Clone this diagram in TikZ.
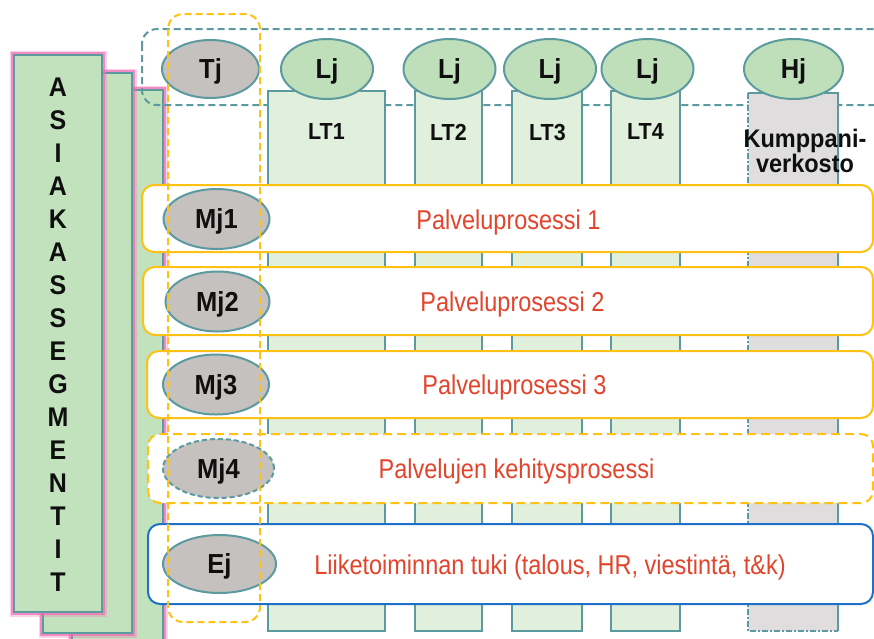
\documentclass[tikz,border=0pt]{standalone}
\usepackage{fontspec}
\setmainfont{Liberation Sans}
\usetikzlibrary{shapes.geometric}

\definecolor{tealline}{RGB}{92,154,160}
\definecolor{segfill}{RGB}{194,226,190}
\definecolor{ellgreen}{RGB}{190,223,186}
\definecolor{colfill}{RGB}{224,240,221}
\definecolor{ellgray}{RGB}{197,193,190}
\definecolor{partnerfill}{RGB}{223,221,221}
\definecolor{procyellow}{RGB}{255,193,20}
\definecolor{supportblue}{RGB}{30,112,200}
\definecolor{proctext}{RGB}{226,68,44}
\definecolor{glowpink}{RGB}{240,110,180}
\definecolor{labeltext}{RGB}{15,15,15}

\newcommand{\tallred}[1]{\scalebox{1}[1.16]{#1}}
\newcommand{\tallbold}[1]{\scalebox{1}[1.08]{#1}}

\tikzset{
  segbox/.style={fill=segfill, draw=tealline, line width=2.4pt},
  glowouter/.style={draw=glowpink, line width=9pt, opacity=0.3},
  glow/.style={draw=glowpink, line width=5.5pt, opacity=0.7},
  seglabel/.style={font=\fontsize{25}{28}\selectfont\bfseries, text=labeltext, inner sep=0pt, text depth=0pt},
  colbox/.style={fill=colfill, draw=tealline, line width=2pt},
  ellbase/.style={ellipse, draw=tealline, line width=2pt, inner sep=0pt, text=labeltext,
    font=\fontsize{25.5}{28}\selectfont\bfseries, text depth=0pt},
  unitell/.style={ellbase, fill=ellgreen, minimum width=92pt, minimum height=60pt},
  roleell/.style={ellbase, fill=ellgray},
  proc/.style={draw=procyellow, fill=white, line width=2pt, rounded corners=12pt},
  proclabel/.style={font=\fontsize{23.5}{28}\selectfont, text=proctext, inner sep=0pt, text depth=0pt},
  collabel/.style={font=\fontsize{21.5}{25}\selectfont\bfseries, text=labeltext, inner sep=0pt, text depth=0pt},
}

\begin{document}
\begin{tikzpicture}[x=1pt, y=-1pt]
\useasboundingbox (0,0) rectangle (874,638);
\clip (0,0) rectangle (874,638);

% stacked customer segment panels with a soft pink halo
\foreach \l/\t/\r/\b in {72/90/163/680, 43/73/132/633, 14/55/102/612} {
  \draw[glowouter] (\l,\t) rectangle (\r,\b);
  \draw[glow] (\l,\t) rectangle (\r,\b);
  \draw[segbox] (\l,\t) rectangle (\r,\b);
}
\foreach \ch [count=\i] in {A,S,I,A,K,A,S,S,E,G,M,E,N,T,I,T}
  \node[seglabel] (seg\i) at (58,{87.5+33*(\i-1)}) {\tallbold{\ch}};

% management band
\draw[tealline, line width=2pt, dash pattern=on 7pt off 4pt, rounded corners=15pt]
  (142,29) rectangle (900,105);

% business unit columns
\draw[colbox] (268,91) rectangle (385,631);
\draw[colbox] (415,91) rectangle (482,631);
\draw[colbox] (512,91) rectangle (582,631);
\draw[colbox] (611,91) rectangle (680,631);
\fill[partnerfill] (748,93) rectangle (838,631);
\draw[tealline, line width=2pt] (748,93) -- (838,93) -- (838,631);
\draw[tealline, line width=2pt, dash pattern=on 6pt off 2pt on 2pt off 2pt]
  (748,93) -- (748,631) -- (838,631);

\node[collabel] (lt1) at (326.5,132) {\tallbold{LT1}};
\node[collabel] (lt2) at (448.5,132) {\tallbold{LT2}};
\node[collabel] (lt3) at (547.5,132) {\tallbold{LT3}};
\node[collabel] (lt4) at (645.5,132) {\tallbold{LT4}};
\node[collabel, font=\fontsize{23.5}{25}\selectfont\bfseries, anchor=base] (partner1) at (805,147) {\tallbold{Kumppani-}};
\node[collabel, font=\fontsize{23.5}{25}\selectfont\bfseries, anchor=base] (partner2) at (805,172) {\tallbold{verkosto}};

% unit leaders
\node[roleell, minimum width=97pt, minimum height=58pt] (tj) at (210.5,69) {\tallbold{Tj}};
\node[unitell] (lj1) at (327,69) {\tallbold{Lj}};
\node[unitell] (lj2) at (449.5,69) {\tallbold{Lj}};
\node[unitell] (lj3) at (550,69) {\tallbold{Lj}};
\node[unitell] (lj4) at (647.5,69) {\tallbold{Lj}};
\node[unitell, minimum width=99pt] (hj) at (793.5,69) {\tallbold{Hj}};

% process rows
\draw[proc] (142,185) rectangle (873,252);
\draw[proc] (143,267) rectangle (873,335);
\draw[proc] (147,351) rectangle (873,418);
\draw[proc, dash pattern=on 9pt off 5pt] (148,434) rectangle (873,503);
\draw[proc, draw=supportblue] (148,524) rectangle (873,604);

\node[proclabel] (p1) at (508.5,220) {\tallred{Palveluprosessi 1}};
\node[proclabel] (p2) at (512.5,302) {\tallred{Palveluprosessi 2}};
\node[proclabel] (p3) at (514.5,385) {\tallred{Palveluprosessi 3}};
\node[proclabel] (p4) at (516.5,469) {\tallred{Palvelujen kehitysprosessi}};
\node[proclabel] (p5) at (550,565) {\tallred{Liiketoiminnan tuki (talous, HR, viestintä, t\&k)}};

\node[roleell, minimum width=106pt, minimum height=60pt] (mj1) at (216.5,219) {\tallbold{Mj1}};
\node[roleell, minimum width=104pt, minimum height=60pt] (mj2) at (217.5,301.5) {\tallbold{Mj2}};
\node[roleell, minimum width=106pt, minimum height=60pt] (mj3) at (216,384.5) {\tallbold{Mj3}};
\node[roleell, minimum width=111pt, minimum height=59pt, dash pattern=on 5pt off 3pt] (mj4) at (218.5,468.5) {\tallbold{Mj4}};
\node[roleell, minimum width=113pt, minimum height=58pt] (ej) at (219.5,564) {\tallbold{Ej}};

% leadership column across all rows
\draw[procyellow, line width=2pt, dash pattern=on 7pt off 4pt, rounded corners=15pt]
  (168,14) rectangle (260,622);
\end{tikzpicture}
\end{document}
